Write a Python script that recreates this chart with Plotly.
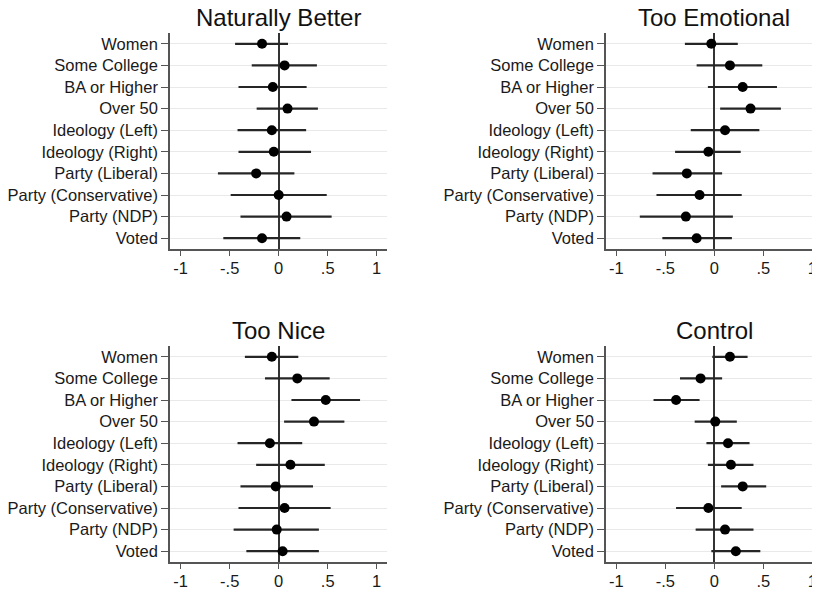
import plotly.graph_objects as go

categories = ["Women", "Some College", "BA or Higher", "Over 50", "Ideology (Left)",
              "Ideology (Right)", "Party (Liberal)", "Party (Conservative)", "Party (NDP)", "Voted"]

titles = ["Naturally Better", "Too Emotional", "Too Nice", "Control"]

nb_est = [-0.17, 0.06, -0.06, 0.09, -0.07, -0.05, -0.23, 0.00, 0.08, -0.17]
nb_lo  = [-0.445, -0.275, -0.41, -0.225, -0.42, -0.41, -0.62, -0.49, -0.39, -0.565]
nb_hi  = [0.095, 0.39, 0.285, 0.40, 0.28, 0.33, 0.16, 0.49, 0.54, 0.22]

te_est = [-0.03, 0.16, 0.29, 0.37, 0.11, -0.06, -0.28, -0.15, -0.29, -0.18]
te_lo  = [-0.30, -0.18, -0.065, 0.06, -0.24, -0.40, -0.63, -0.59, -0.76, -0.53]
te_hi  = [0.24, 0.49, 0.64, 0.68, 0.46, 0.27, 0.08, 0.28, 0.19, 0.18]

tn_est = [-0.07, 0.19, 0.48, 0.36, -0.09, 0.12, -0.03, 0.06, -0.02, 0.04]
tn_lo  = [-0.345, -0.14, 0.13, 0.055, -0.42, -0.23, -0.39, -0.41, -0.46, -0.33]
tn_hi  = [0.20, 0.52, 0.83, 0.67, 0.24, 0.47, 0.35, 0.53, 0.41, 0.41]

ct_est = [0.16, -0.14, -0.39, 0.01, 0.14, 0.17, 0.29, -0.06, 0.11, 0.22]
ct_lo  = [-0.02, -0.35, -0.62, -0.20, -0.08, -0.065, 0.07, -0.39, -0.19, -0.03]
ct_hi  = [0.34, 0.08, -0.15, 0.23, 0.36, 0.40, 0.53, 0.28, 0.40, 0.47]

xtick_vals = [-1, -0.5, 0, 0.5, 1]
xtick_text = ["-1", "-.5", "0", ".5", "1"]

panels = [(nb_est, nb_lo, nb_hi), (te_est, te_lo, te_hi),
          (tn_est, tn_lo, tn_hi), (ct_est, ct_lo, ct_hi)]

# page body has an 8px margin, so the figure is 8px smaller and shifted
OFF = 8
W, H = 820 - OFF, 592 - OFF
xdoms = [[(170 - OFF) / W, (387.3 - OFF) / W], [(606 - OFF) / W, 1.0]]
ydoms = [[1 - (249 - OFF) / H, 1 - (33 - OFF) / H], [1 - (562 - OFF) / H, 1 - (346 - OFF) / H]]
xranges = [[-1.109, 1.108], [-1.105, 1.079]]
title_x = [(278.7 - OFF) / W, (714.3 - OFF) / W]

ypos = list(range(1, len(categories) + 1))
FONT = "Liberation Sans, Arial, Helvetica, sans-serif"

fig = go.Figure()
layout = {}
annotations = []
for i, (est, lo, hi) in enumerate(panels):
    r, c = divmod(i, 2)
    n = i + 1
    xa = "x" if n == 1 else f"x{n}"
    ya = "y" if n == 1 else f"y{n}"
    fig.add_trace(go.Scatter(
        x=est, y=ypos, mode="markers", xaxis=xa, yaxis=ya,
        marker=dict(color="#000000", size=10),
        error_x=dict(type="data", symmetric=False,
                     array=[h - e for h, e in zip(hi, est)],
                     arrayminus=[e - l for e, l in zip(est, lo)],
                     color="#262626", thickness=2.2, width=0),
        showlegend=False, hoverinfo="skip"))
    layout["xaxis" if n == 1 else f"xaxis{n}"] = dict(
        domain=xdoms[c], range=xranges[c], anchor=ya,
        tickvals=xtick_vals, ticktext=xtick_text,
        showgrid=False, zeroline=True, zerolinecolor="#333333", zerolinewidth=1.6,
        showline=True, linecolor="#555555", linewidth=1.6,
        ticks="outside", ticklen=5, tickcolor="#555555", tickwidth=1.4,
        ticklabelstandoff=-2,
        tickfont=dict(size=16.5, color="#1a1a1a", family=FONT))
    layout["yaxis" if n == 1 else f"yaxis{n}"] = dict(
        domain=ydoms[r], range=[10.5, 0.5], anchor=xa,
        tickvals=ypos, ticktext=categories,
        showgrid=True, gridcolor="#e9e9e9", gridwidth=1, zeroline=False,
        showline=True, linecolor="#555555", linewidth=1.6,
        ticks="outside", ticklen=7, tickcolor="#555555", tickwidth=1.4,
        tickfont=dict(size=16.5, color="#1a1a1a", family=FONT))
    annotations.append(dict(
        text=titles[i], xref="paper", yref="paper",
        x=title_x[c], y=ydoms[r][1], yanchor="bottom", xanchor="center",
        showarrow=False, font=dict(size=24, color="#111111", family=FONT)))

fig.update_layout(**layout)
fig.update_layout(
    width=W, height=H, margin=dict(l=0, r=0, t=0, b=0),
    paper_bgcolor="white", plot_bgcolor="white",
    annotations=annotations, showlegend=False)

fig.write_html("out.html")
